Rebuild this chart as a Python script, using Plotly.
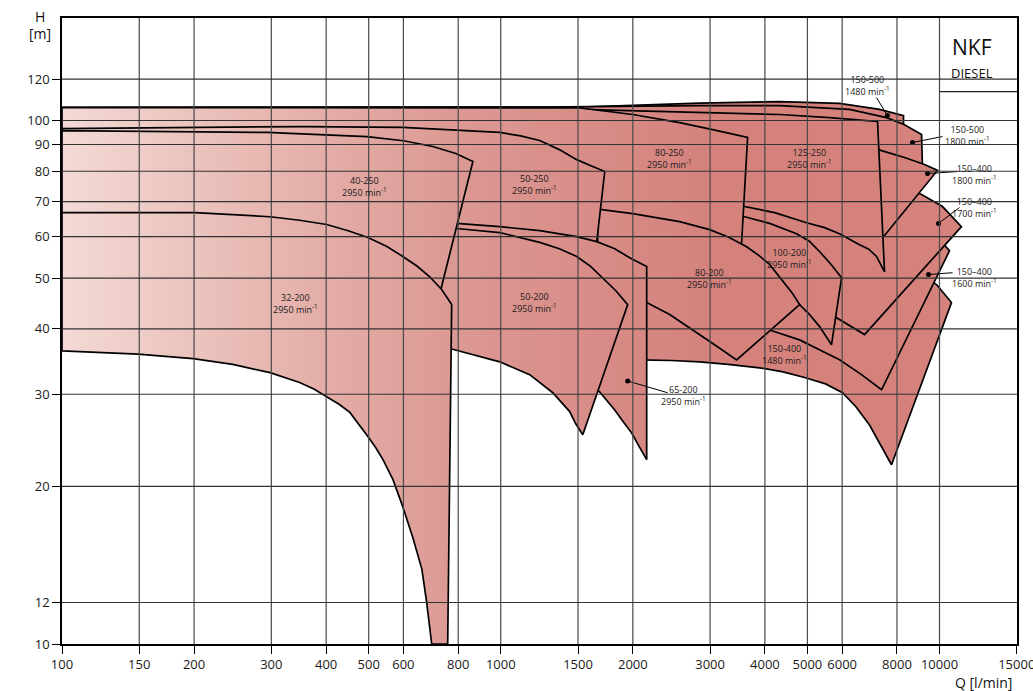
import math
import plotly.graph_objects as go

# ---------------- axes ----------------
X_TICKS = [100, 150, 200, 300, 400, 500, 600, 800, 1000, 1500, 2000, 3000, 4000, 5000, 6000, 8000, 10000, 15000]
Y_TICKS = [10, 12, 20, 30, 40, 50, 60, 70, 80, 90, 100, 120]
X_RANGE = [100, 15020]
Y_RANGE = [10, 157]

# ---------------- pump regions (Q [l/min], H [m]), drawn bottom layer first ----------------
q_150_500_1480 = [100, 530, 1514, 2840, 4321, 5919, 7300, 8279, 8279, 100]
h_150_500_1480 = [105.9, 105.9, 106.1, 108.0, 108.7, 107.8, 105.0, 102.2, 96.1, 96.1]

q_150_500_1800 = [100, 530, 1227, 2840, 4321, 6237, 7574, 8323, 9101, 9149, 6926, 100]
h_150_500_1800 = [105.9, 105.9, 106.1, 106.8, 106.8, 105.0, 101.3, 98.2, 94.0, 80.6, 80.6, 80.6]

q_150_400_1480 = [9845, 10650, 7775, 7300, 6926, 6450, 6012, 5500, 4926, 4400, 3890, 3300, 2840, 2450,
                  2151, 2073, 2073, 2840, 8108, 9489]
h_150_400_1480 = [48.6, 44.9, 22.0, 24.2, 26.2, 28.4, 30.2, 31.4, 32.3, 33.1, 33.7, 34.2, 34.6, 34.8,
                  34.9, 34.9, 46.5, 46.5, 50.8, 49.7]

q_150_400_1600 = [10000, 10540, 7378, 6642, 5919, 5300, 4799, 4100, 3994, 3994, 6237]
h_150_400_1600 = [59.2, 56.4, 30.6, 32.7, 34.9, 36.6, 38.1, 39.8, 39.8, 47.5, 45.5]

q_150_400_1700 = [8910, 9101, 10158, 11220, 6748, 6237, 5826, 5616, 4554, 3448, 3448, 8108]
h_150_400_1700 = [72.8, 72.2, 68.5, 62.7, 39.0, 40.6, 42.0, 41.6, 57.9, 61.9, 73.8, 73.8]

q_150_400_1800 = [7148, 7378, 8323, 9245, 9895, 7455, 7224]
h_150_400_1800 = [88.4, 87.6, 85.0, 82.4, 80.3, 60.0, 60.0]

q_125_250 = [100, 530, 1514, 3323, 4321, 5616, 7224, 7494, 7186, 6900, 6573, 5919, 5450, 4978, 4209,
             3596, 3448, 100]
h_125_250 = [105.9, 105.9, 105.0, 103.1, 102.7, 101.3, 99.6, 51.4, 55.0, 56.8, 57.9, 60.8, 62.5, 63.8, 66.7,
             68.5, 70.6, 70.6]

q_100_200 = [3596, 4100, 4724, 5050, 5330, 5650, 5982, 5675, 5330, 5057, 4799, 4436, 3890, 3448, 3448]
h_100_200 = [65.5, 63.6, 60.8, 58.8, 56.2, 53.2, 50.1, 37.3, 40.4, 42.6, 44.5, 47.5, 50.8, 53.1, 65.5]

q_80_250 = [100, 530, 1514, 1998, 2557, 3040, 3350, 3653, 3540, 3503, 100]
h_80_250 = [105.9, 105.9, 105.7, 102.7, 99.1, 96.1, 94.3, 92.8, 58.5, 55.5, 55.5]

q_80_200 = [1663, 1699, 1998, 2557, 2993, 3300, 3634, 3880, 4100, 4436, 4620, 4799, 3448, 3072, 2695, 2427,
            2151, 2073, 2073, 1867, 1663]
h_80_200 = [67.6, 67.6, 66.4, 64.1, 61.9, 59.9, 57.4, 55.2, 53.1, 49.0, 46.8, 44.5, 34.9, 37.3, 40.2, 42.6,
            44.9, 45.5, 51.9, 53.8, 56.7]

q_50_250 = [100, 206, 358, 598, 807, 995, 1110, 1227, 1360, 1490, 1610, 1726, 1655, 1628, 100]
h_50_250 = [96.5, 97.0, 97.4, 97.0, 95.7, 94.9, 93.5, 91.6, 88.0, 84.2, 81.9, 79.9, 58.7, 53.8, 53.8]

q_65_200 = [765, 794, 995, 1227, 1490, 1655, 1819, 1967, 2151, 2151, 2070, 1988, 1900, 1819, 1681, 1475,
            1227, 995, 765]
h_65_200 = [63.6, 63.6, 62.7, 61.6, 60.0, 58.7, 56.9, 54.7, 52.6, 22.5, 23.8, 25.3, 26.6, 28.0, 30.3, 32.3,
            34.9, 37.3, 39.0]

q_50_200 = [726, 794, 995, 1227, 1360, 1490, 1600, 1708, 1830, 1947, 1538, 1480, 1436, 1314, 1164, 995,
            773, 726]
h_50_200 = [62.4, 62.2, 61.1, 58.5, 56.9, 55.0, 52.7, 50.1, 47.3, 44.5, 25.1, 26.4, 27.8, 30.2, 32.7, 34.6,
            36.6, 37.3]

q_40_250 = [100, 293, 495, 600, 700, 790, 864, 730, 654, 100]
h_40_250 = [95.7, 94.9, 93.2, 91.5, 89.2, 86.5, 83.5, 47.5, 45.5, 45.5]

q_32_200 = [100, 201, 298, 348, 401, 449, 498, 549, 598, 643, 689, 734, 773, 757, 696, 678, 661, 630,
            598, 568, 539, 519, 498, 477, 453, 428, 401, 375, 348, 298, 245, 199, 149, 100]
h_32_200 = [66.7, 66.7, 65.5, 64.5, 63.3, 61.6, 59.8, 57.5, 55.0, 52.8, 50.3, 47.5, 44.5, 10, 10, 12.0,
            13.9, 16.0, 18.3, 20.6, 22.5, 23.7, 24.9, 26.2, 27.7, 28.7, 29.7, 30.7, 31.6, 33.0, 34.2, 35.1,
            35.8, 36.3]

REGIONS = [
    (q_150_500_1480, h_150_500_1480), (q_150_500_1800, h_150_500_1800),
    (q_150_400_1480, h_150_400_1480), (q_150_400_1600, h_150_400_1600),
    (q_150_400_1700, h_150_400_1700), (q_150_400_1800, h_150_400_1800),
    (q_125_250, h_125_250), (q_100_200, h_100_200), (q_80_250, h_80_250),
    (q_80_200, h_80_200), (q_50_250, h_50_250), (q_65_200, h_65_200),
    (q_50_200, h_50_200), (q_40_250, h_40_250), (q_32_200, h_32_200),
]

# ---------------- labels ----------------
MIN1 = " min<sup>-1</sup>"
LABEL_TEXT = ["32-200<br>2950" + MIN1, "40-250<br>2950" + MIN1, "50-250<br>2950" + MIN1,
              "50-200<br>2950" + MIN1, "80-250<br>2950" + MIN1, "125-250<br>2950" + MIN1,
              "100-200<br>2950" + MIN1, "80-200<br>2950" + MIN1, "150-400<br>1480" + MIN1,
              "65-200<br>2950" + MIN1, "150-500<br>1480" + MIN1, "150-500<br>1800" + MIN1,
              "150–400<br>1800" + MIN1, "150–400<br>1700" + MIN1, "150–400<br>1600" + MIN1]
LABEL_Q = [341, 490, 1195, 1195, 2427, 5057, 4554, 2993, 4436, 2612, 6855, 11580, 12020, 12020, 12020]
LABEL_H = [44.8, 74.8, 75.4, 45.0, 84.6, 84.6, 54.6, 49.9, 35.7, 29.9, 116.7, 93.8, 79.0, 68.2, 50.1]

# leader lines: dot -> label end
DOT_Q = [7610, 8680, 9391, 9947, 9439, 1947]
DOT_H = [102.2, 90.8, 79.2, 63.6, 50.8, 31.8]
END_Q = [7186, 10158, 10990, 11110, 10710, 2401]
END_H = [110.6, 93.2, 79.9, 68.2, 51.2, 30.2]

BOX_Q = [10000, 15020]
BOX_H = 113.6

# ---------------- gradient ----------------
GRAD_Q = [100, 300, 800, 3000]
GRAD_COLORS = ["#f3d9d5", "#e7b6b0", "#dc9893", "#d5827d"]
lg0, lg1 = math.log10(GRAD_Q[0]), math.log10(GRAD_Q[-1])
GRAD_SCALE = [[(math.log10(q) - lg0) / (lg1 - lg0), c] for q, c in zip(GRAD_Q, GRAD_COLORS)]

FONT = "Open Sans"

fig = go.Figure()
for q, h in REGIONS:
    fig.add_trace(go.Scatter(
        x=q + q[:1], y=h + h[:1], mode="lines", fill="toself",
        fillgradient=dict(type="horizontal", colorscale=GRAD_SCALE, start=GRAD_Q[0], stop=GRAD_Q[-1]),
        line=dict(color="black", width=1.7), hoverinfo="skip", showlegend=False))

lx, ly = [], []
for a, b, c, d in zip(DOT_Q, DOT_H, END_Q, END_H):
    lx += [a, c, None]
    ly += [b, d, None]
fig.add_trace(go.Scatter(x=lx, y=ly, mode="lines", line=dict(color="black", width=1),
                         hoverinfo="skip", showlegend=False))
fig.add_trace(go.Scatter(x=DOT_Q, y=DOT_H, mode="markers", marker=dict(color="black", size=5),
                         hoverinfo="skip", showlegend=False))

shapes = []
for xv in X_TICKS[1:-1]:
    shapes.append(dict(type="line", xref="x", yref="paper", x0=xv, x1=xv, y0=0, y1=1,
                       line=dict(color="#4a4a4a", width=1.2), layer="above"))
for yv in Y_TICKS[1:]:
    shapes.append(dict(type="line", xref="paper", yref="y", x0=0, x1=1, y0=yv, y1=yv,
                       line=dict(color="#333333", width=1.1), layer="above"))
shapes.append(dict(type="line", xref="x", yref="y", x0=BOX_Q[0], x1=BOX_Q[1], y0=BOX_H, y1=BOX_H,
                   line=dict(color="#222222", width=1.2), layer="above"))

ann = []
for t, q, h in zip(LABEL_TEXT, LABEL_Q, LABEL_H):
    ann.append(dict(x=math.log10(q), y=math.log10(h), xref="x", yref="y", text=t, showarrow=False,
                    xanchor="center", yanchor="middle",
                    font=dict(family=FONT, size=9, color="#1a1a1a"), align="center"))
ann.append(dict(x=math.log10(11890), y=math.log10(138.5), xref="x", yref="y", text="NKF", showarrow=False,
                xanchor="center", yanchor="middle", font=dict(family=FONT, size=21, color="#111")))
ann.append(dict(x=math.log10(11890), y=math.log10(123.5), xref="x", yref="y", text="DIESEL", showarrow=False,
                xanchor="center", yanchor="middle", font=dict(family=FONT, size=13, color="#111")))
ann.append(dict(x=-0.023, y=1.0016, xref="paper", yref="paper", text="H", showarrow=False,
                xanchor="center", yanchor="middle", font=dict(family=FONT, size=14, color="#111")))
ann.append(dict(x=-0.023, y=0.976, xref="paper", yref="paper", text="[m]", showarrow=False,
                xanchor="center", yanchor="middle", font=dict(family=FONT, size=14, color="#111")))
ann.append(dict(x=0.965, y=-0.062, xref="paper", yref="paper", text="Q [l/min]", showarrow=False,
                xanchor="center", yanchor="middle", font=dict(family=FONT, size=14, color="#111")))

axis_common = dict(type="log", showgrid=False, zeroline=False, ticks="outside", ticklen=8,
                   tickcolor="black", tickwidth=1, showline=True, linecolor="black", linewidth=1.6,
                   mirror=True, tickfont=dict(family=FONT, size=13, color="#1a1a1a"),
                   ticklabeloverflow="allow", automargin=False)

fig.update_layout(
    width=1033, height=691, margin=dict(l=62, r=16, t=18, b=47),
    paper_bgcolor="white", plot_bgcolor="white", showlegend=False,
    xaxis=dict(range=[math.log10(X_RANGE[0]), math.log10(X_RANGE[1])], tickvals=X_TICKS,
               ticktext=[str(v) for v in X_TICKS], **axis_common),
    yaxis=dict(range=[math.log10(Y_RANGE[0]), math.log10(Y_RANGE[1])], tickvals=Y_TICKS,
               ticktext=[str(v) for v in Y_TICKS], **axis_common),
    shapes=shapes, annotations=ann,
)

fig.write_html("out.html", config={"displayModeBar": False},
               post_script="document.body.style.margin='0';")
